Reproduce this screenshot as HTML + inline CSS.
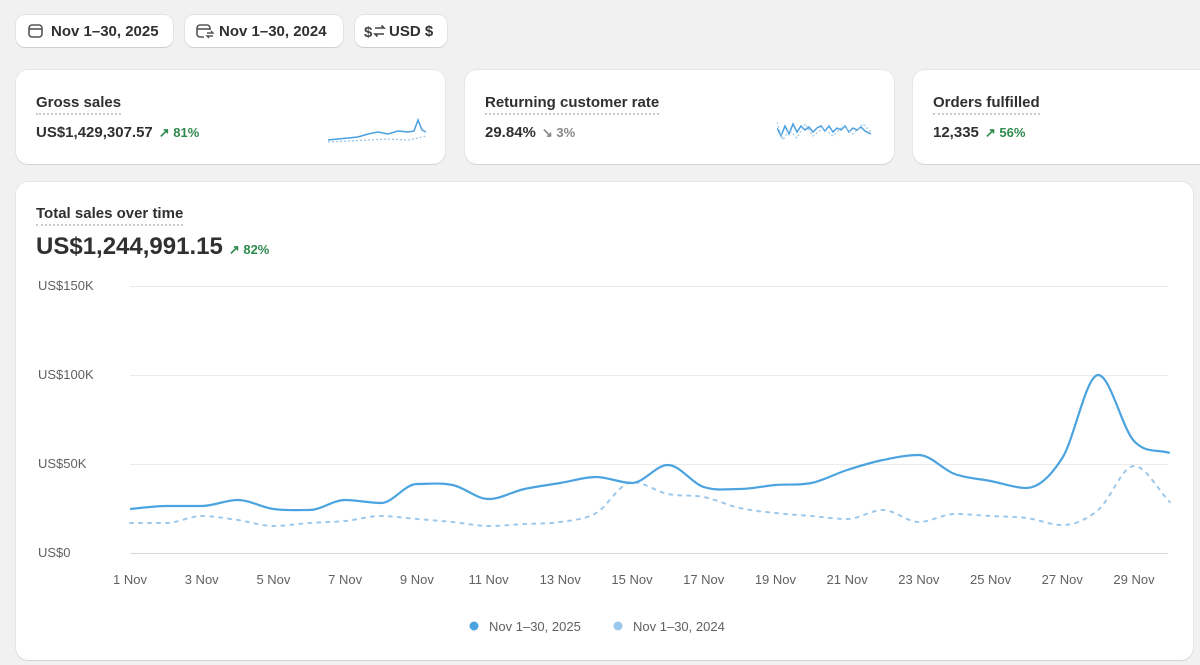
<!DOCTYPE html><html><head><meta charset="utf-8"><style>
body{margin:0;width:1200px;height:665px;background:#f1f1f1;font-family:"Liberation Sans",sans-serif;color:#303030;overflow:hidden;position:relative}
.btn{position:absolute;top:15px;height:32px;background:#fff;border-radius:9px;box-shadow:0 1px 0 #d0d0d0,0 0 0 1px #e3e3e3;font-size:15px;font-weight:bold;line-height:34px;color:#303030;box-sizing:border-box}
.card{position:absolute;background:#fff;border-radius:12px;box-shadow:0 1px 0 #d4d4d4,0 0 0 1px #e6e6e6}
.t{position:absolute;font-size:15px;font-weight:bold;border-bottom:2px dotted #ccc;padding-bottom:2px}
.v{position:absolute;font-size:15px;font-weight:bold}
.g{color:#2f8a4e;font-size:13px;font-weight:bold;margin-left:6px}
.gr{color:#888;font-size:13px;font-weight:bold;margin-left:6px}
.yl{position:absolute;left:38px;font-size:13px;color:#616161}
.xl{position:absolute;top:572px;font-size:13px;color:#616161;transform:translateX(-50%)}
</style></head><body>
<div class="btn" style="left:16px;width:157px;padding-left:35px">Nov 1–30, 2025</div>
<div class="btn" style="left:185px;width:158px;padding-left:34px">Nov 1–30, 2024</div>
<div class="btn" style="left:355px;width:92px;padding-left:34px">USD $</div>
<svg style="position:absolute;left:27px;top:22px" width="18" height="18"><rect x="2" y="3" width="13" height="12" rx="3" fill="none" stroke="#555" stroke-width="1.6"/><line x1="2" y1="7" x2="15" y2="7" stroke="#555" stroke-width="1.6"/></svg>
<svg style="position:absolute;left:195px;top:22px" width="20" height="18"><path d="M9,15 H5 a3,3 0 0 1 -3,-3 V6 a3,3 0 0 1 3,-3 H12 a3,3 0 0 1 3,3 V8" fill="none" stroke="#555" stroke-width="1.6"/><line x1="2" y1="7" x2="15" y2="7" stroke="#555" stroke-width="1.6"/><path d="M12,11 h6 l-2,-2 M18,14 h-6 l2,2" fill="none" stroke="#555" stroke-width="1.4"/></svg>
<svg style="position:absolute;left:364px;top:22px" width="22" height="18"><text x="0" y="15" font-size="15" font-weight="bold" fill="#444" font-family="Liberation Sans">$</text><path d="M11,6 h9 l-2.5,-2.5 M20,12 h-9 l2.5,2.5" fill="none" stroke="#444" stroke-width="1.6"/></svg>

<div class="card" style="left:16px;top:70px;width:429px;height:94px">
<div class="t" style="left:20px;top:24px">Gross sales</div>
<div class="v" style="left:20px;top:54px">US$1,429,307.57<span class="g">↗ 81%</span></div>
<svg style="position:absolute;left:312px;top:48px" width="100" height="30"><polyline points="0,22 10,21 20,20 30,19 40,16 50,14 60,16 70,13 80,14 86,13 90,2 94,12 98,14" fill="none" stroke="#4a9fde" stroke-width="1.5"/><polyline points="0,24 20,23 40,22 60,21 80,22 90,20 98,18" fill="none" stroke="#9cc8ec" stroke-width="1.3" stroke-dasharray="2 2"/></svg>
</div>
<div class="card" style="left:465px;top:70px;width:429px;height:94px">
<div class="t" style="left:20px;top:24px">Returning customer rate</div>
<div class="v" style="left:20px;top:54px">29.84%<span class="gr">↘ 3%</span></div>
<svg style="position:absolute;left:312px;top:48px" width="100" height="30"><polyline points="0,10 4,18 8,8 12,16 16,6 20,14 24,8 28,12 32,9 36,14 40,10 44,8 48,13 52,8 56,14 60,10 64,12 68,8 72,14 76,10 80,12 84,9 88,13 94,16" fill="none" stroke="#4a9fde" stroke-width="1.5"/><polyline points="0,4 6,22 12,12 20,20 28,6 36,18 46,10 56,18 66,8 76,16 86,6 94,14" fill="none" stroke="#9cc8ec" stroke-width="1.2" stroke-dasharray="2 2"/></svg>
</div>
<div class="card" style="left:913px;top:70px;width:300px;height:94px">
<div class="t" style="left:20px;top:24px">Orders fulfilled</div>
<div class="v" style="left:20px;top:54px">12,335<span class="g">↗ 56%</span></div>
</div>

<div class="card" style="left:16px;top:182px;width:1177px;height:478px"></div>
<div class="t" style="left:36px;top:205px">Total sales over time</div>
<div style="position:absolute;left:36px;top:233px;font-size:24px;font-weight:bold">US$1,244,991.15<span class="g">↗ 82%</span></div>
<div class="yl" style="top:278px">US$150K</div>
<div class="yl" style="top:367px">US$100K</div>
<div class="yl" style="top:456px">US$50K</div>
<div class="yl" style="top:545px">US$0</div>
<svg style="position:absolute;left:0;top:0" width="1200" height="665">
<g stroke="#ebebeb" stroke-width="1"><line x1="130" x2="1168" y1="286.5" y2="286.5"/><line x1="130" x2="1168" y1="375.5" y2="375.5"/><line x1="130" x2="1168" y1="464.5" y2="464.5"/></g>
<line x1="130" x2="1168" y1="553.5" y2="553.5" stroke="#d6d6d6"/>
<path id="s2" fill="none" stroke="#9cc8ec" stroke-width="2" stroke-dasharray="3 6" stroke-linecap="round"/>
<path id="s1" fill="none" stroke="#4ba3e0" stroke-width="2.2"/>
<circle cx="474" cy="626" r="4.5" fill="#4ba3e0"/><circle cx="618" cy="626" r="4.5" fill="#9cc8ec"/>
</svg>
<div style="position:absolute;left:489px;top:619px;font-size:13px;color:#616161">Nov 1–30, 2025</div>
<div style="position:absolute;left:633px;top:619px;font-size:13px;color:#616161">Nov 1–30, 2024</div>
<div id="xl"></div>
<script>
var a=[509,506,506,506,500,509,510,501,503,484,485,499,489,483,477,483,465,487,489,485,483,470,460,455,474,481,488,458,375,441,453];
a=[509,506,506,500,509,510,500,503,484,485,499,489,483,477,483,465,487,489,485,483,470,460,455,474,481,488,458,375,441,453];
var b=[523,523,516,520,526,523,521,516,519,522,526,524,522,513,482,494,497,508,513,516,519,510,522,514,516,518,525,510,466,502];
var dx=(1134-130)/28;
function path(v){var n=v.length,p=v.map((y,i)=>[130+i*dx,y]);var d=[],m=[];
for(var i=0;i<n-1;i++)d.push(v[i+1]-v[i]);
for(var i=0;i<n;i++){if(i==0)m.push(d[0]);else if(i==n-1)m.push(d[n-2]);else m.push(d[i-1]*d[i]<=0?0:(d[i-1]+d[i])/2);}
var s="M"+p[0];for(var i=0;i<n-1;i++){s+="C"+(p[i][0]+dx/3)+","+(v[i]+m[i]/3)+" "+(p[i+1][0]-dx/3)+","+(v[i+1]-m[i+1]/3)+" "+p[i+1];}return s;}
document.getElementById("s1").setAttribute("d",path(a));
document.getElementById("s2").setAttribute("d",path(b));
var h="";for(var i=0;i<15;i++){h+='<div class="xl" style="left:'+(130+2*i*dx)+'px">'+(2*i+1)+' Nov</div>';}
document.getElementById("xl").innerHTML=h;
</script>
</body></html>
